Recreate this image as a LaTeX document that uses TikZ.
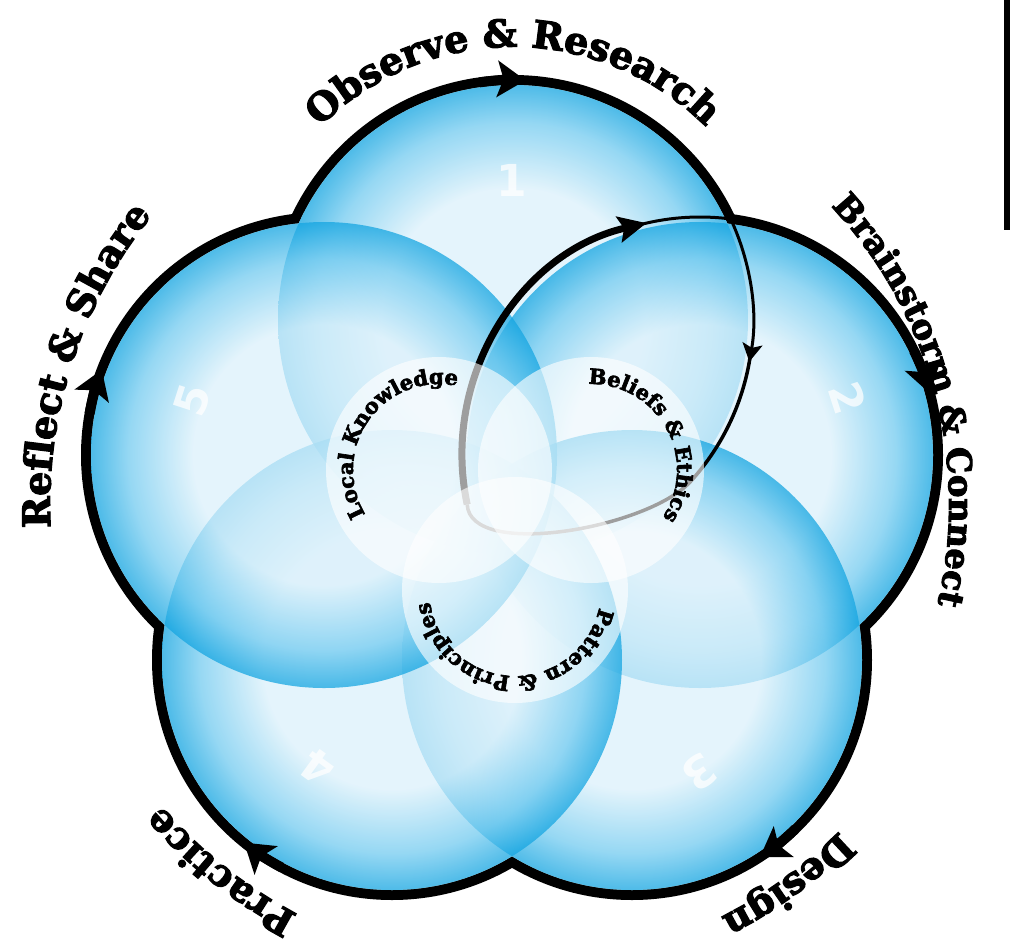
\documentclass[tikz,border=0pt]{standalone}
\usepackage{fontspec}
\setmainfont{DejaVu Serif}
\newfontfamily\heavyfamily{DejaVu Serif}[BoldFeatures={FakeBold=3}]
\newfontfamily\digitfont{DejaVu Sans}
\usetikzlibrary{arrows.meta,calc,decorations.text}

\definecolor{petaldeep}{RGB}{20,165,225}
\definecolor{petalmid}{RGB}{115,203,240}
\definecolor{petallight}{RGB}{220,241,251}
\pgfdeclareradialshading{petal}{\pgfpoint{0bp}{0bp}}{%
  color(0bp)=(petallight); color(14bp)=(petallight);
  color(21bp)=(petalmid); color(25bp)=(petaldeep); color(50bp)=(petaldeep)}

\newcommand\stagefont{\heavyfamily\bfseries\fontsize{38}{38}\selectfont}
\newcommand\stagefontsmall{\heavyfamily\bfseries\fontsize{34}{34}\selectfont}
\newcommand\corefont{\heavyfamily\bfseries\fontsize{21}{21}\selectfont}
% petal: number/x/y/radius
\newcommand\petallist{1/513/320/235, 2/700/455/233, 3/632/660/230, 4/392/660/230, 5/324/455/233}

\begin{document}
\begin{tikzpicture}
  [x=1pt,y=1pt,
   rim/.style={line width=20pt},
   rim arrow/.style={line width=10pt,-{Stealth[length=28pt,width=36pt,inset=6pt]}},
   ring text/.style={decorate,decoration={text along path,text align=center,text={#1}}},
   core/.style={circle,minimum size=226pt,inner sep=0pt,fill=white,fill opacity=.62},
   petal number/.style={text=white,text opacity=.75,font=\digitfont\bfseries\fontsize{44}{44}\selectfont},
   loop thick/.style={line width=7pt,-{Stealth[length=28pt,width=26pt,inset=5pt]}},
   loop thin/.style={line width=3pt}]
  \useasboundingbox (0,0) rectangle (1010,-946);
  \fill (1004,0) rectangle (1010,-230);

  \foreach \n/\x/\y/\r in \petallist
    \coordinate (c\n) at (\x,-\y);
  \coordinate (mid) at (512,-505);
  \foreach \n/\x/\y/\r in \petallist
    \draw[rim] (c\n) circle[radius=\r];
  \foreach \n/\x/\y/\r in \petallist
    \fill[white] (c\n) circle[radius=\r];
  \foreach \n/\x/\y/\r in \petallist
    \shade[shading=petal,fill opacity=.75] (c\n) circle[radius=\r];

  \foreach \n/\a/\r in {1/90/240, 2/18/238, 3/-54/235, 4/234/235, 5/162/238}
    \draw[rim arrow] ($(c\n)+(\a+8:\r)$) arc[start angle=\a+8,end angle=\a-3,radius=\r];

  \foreach \n/\x/\y/\a in {1/512/180/0, 2/848/398/-72, 3/700/772/-144, 4/318/767/144, 5/192/400/72}
    \node[petal number,rotate=\a] (num\n) at (\x,-\y) {\n};

  % loop from 1 to 2
  \draw[loop thick] ($(c2)+(192:238)$) arc[start angle=192,end angle=103,radius=238];
  \draw[loop thin] ($(c2)+(106:238)$) arc[start angle=106,end angle=82.8,radius=238];
  \draw[loop thin,-{Stealth[length=18pt,width=20pt,inset=4pt]}]
    ($(c1)+(25.2:240)$) arc[start angle=25.2,end angle=-10,radius=240];
  \draw[loop thin,line width=3.5pt] ($(c1)+(-8:240)$) arc[start angle=-8,end angle=-42,radius=240]
    .. controls (650,-528) and (470,-560) .. ($(c2)+(192:238)$);

  \node[core] (lk) at (439,-470) {};
  \node[core] (be) at (591,-470) {};
  \node[core] (pp) at (515,-590) {};

  \path[ring text={|\corefont|Local Knowledge}]
    ($(lk.center)+(234.5:86)$) arc[start angle=234.5,end angle=54.5,radius=86];
  \path[ring text={|\corefont|Beliefs {\&} Ethics}]
    ($(be.center)+(119:86)$) arc[start angle=119,end angle=-61,radius=86];
  \path[ring text={|\corefont|Pattern {\&} Principles}]
    ($(pp.center)+(-2:86)$) arc[start angle=-2,end angle=-182,radius=86];

  \path[ring text={|\stagefont|Observe {\&} Research}]
    ($(c1)+(165:273)$) arc[start angle=165,end angle=15,radius=273];
  \path[ring text={|\stagefontsmall|Brainstorm {\&} Connect}]
    ($(mid)+(75:437)$) arc[start angle=75,end angle=-45,radius=437];
  \path[ring text={|\stagefont|Design}]
    ($(mid)+(1:462)$) arc[start angle=1,end angle=-109,radius=462];
  \path[ring text={|\stagefont|Practice}]
    ($(mid)+(286:462)$) arc[start angle=286,end angle=177,radius=462];
  \path[ring text={|\stagefont|Reflect {\&} Share}]
    ($(mid)+(230:462)$) arc[start angle=230,end angle=94,radius=462];
\end{tikzpicture}
\end{document}
